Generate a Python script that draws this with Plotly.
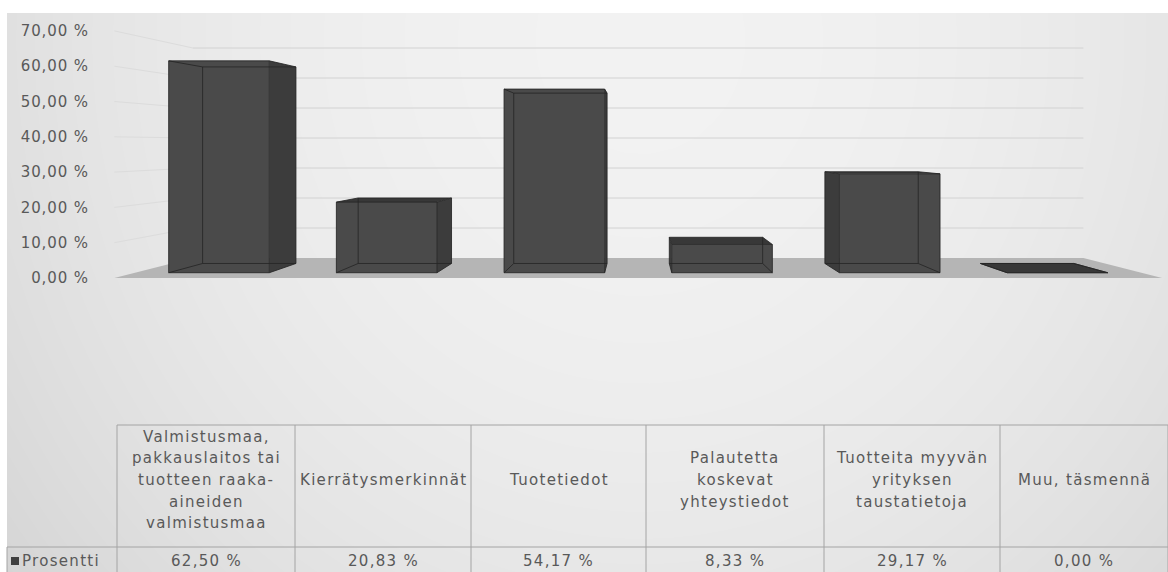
import textwrap
import numpy as np
import plotly.graph_objects as go

# ---------------------------------------------------------------- data
CATEGORIES = [
    "Valmistusmaa, pakkauslaitos tai tuotteen raaka-aineiden valmistusmaa",
    "Kierrätysmerkinnät",
    "Tuotetiedot",
    "Palautetta koskevat yhteystiedot",
    "Tuotteita myyvän yrityksen taustatietoja",
    "Muu, täsmennä",
]
PROSENTTI = [62.50, 20.83, 54.17, 8.33, 29.17, 0.00]
SERIES_NAME = "Prosentti"
Y_TICK_VALUES = [0, 10, 20, 30, 40, 50, 60, 70]
Y_TICK_LABELS = ["0,00 %", "10,00 %", "20,00 %", "30,00 %",
                 "40,00 %", "50,00 %", "60,00 %", "70,00 %"]

# ---------------------------------------------------------------- style
W, H = 1168, 572
FONT = "DejaVu Sans"
TEXT = "#595959"
FS = 15
SPACING = "1.3px"
TICK_SPACING = "0.9px"

# simple perspective camera for the 3-D column look
UNIT = 3.53          # px per percent on the front edge of the floor
CENTER_PX = 638.2    # horizontal vanishing line
FLOOR_FRONT_PX = 278
EYE = 37.7           # eye height, in percent units
DIST = 5.66          # camera distance, in floor depths
HALF_W = 148.4       # half floor width, in percent units
BAR_Z = (0.234, 0.693)
BAR_FRAC = 0.6
PLOT_L = 90

BAR_FRONT = "#4a4a4a"
BAR_SIDE = "#3c3c3c"
BAR_TOP = "#383838"
BAR_EDGE = "rgba(38,38,38,0.85)"
FLOOR = "#b5b5b5"
GRID_BACK = "#d2d2d2"
GRID_SIDE = "#dcdcdc"
TABLE_LINE = "#a4a4a4"


def spaced(s, sp=SPACING):
    return f'<span style="letter-spacing:{sp}">{s}</span>'


def proj(X, Y, Z):
    r = DIST / (DIST + Z)
    return r * X, EYE + r * (Y - EYE)


def poly(points):
    xs, ys = zip(*[proj(*p) for p in points])
    return list(xs) + [xs[0]], list(ys) + [ys[0]]


fig = go.Figure()

# --- soft background gradient (full chart area)
gx = np.linspace(7, W, 48)
gy = np.linspace(13, H, 32)
GX, GY = np.meshgrid(gx, gy)
shade = 242 - 22 * ((GX - 640) / 700) ** 2 - 12 * ((GY - 40) / 560) ** 2
fig.add_trace(go.Heatmap(
    x=gx, y=gy, z=shade, zmin=200, zmax=245, zsmooth="best",
    colorscale=[[0, "rgb(200,200,200)"], [1, "rgb(245,245,245)"]],
    showscale=False, hoverinfo="skip", xaxis="x", yaxis="y"))

# --- floor
fx, fy = poly([(-HALF_W, 0, 0), (HALF_W, 0, 0), (HALF_W, 0, 1), (-HALF_W, 0, 1)])
fig.add_trace(go.Scatter(x=fx, y=fy, mode="lines", fill="toself",
                         fillcolor=FLOOR, line=dict(width=0),
                         hoverinfo="skip", showlegend=False,
                         xaxis="x2", yaxis="y2"))

# --- gridlines on the back wall and the left wall
bx, by, sx, sy = [], [], [], []
for v in Y_TICK_VALUES[1:]:
    x0, y0 = proj(-HALF_W, v, 1)
    x1, y1 = proj(HALF_W, v, 1)
    bx += [x0, x1, None]
    by += [y0, y1, None]
    x2, y2 = proj(-HALF_W, v, 0)
    sx += [x2, x0, None]
    sy += [y2, y0, None]
fig.add_trace(go.Scatter(x=sx, y=sy, mode="lines",
                         line=dict(color=GRID_SIDE, width=1),
                         hoverinfo="skip", showlegend=False,
                         xaxis="x2", yaxis="y2"))
fig.add_trace(go.Scatter(x=bx, y=by, mode="lines",
                         line=dict(color=GRID_BACK, width=1),
                         hoverinfo="skip", showlegend=False,
                         xaxis="x2", yaxis="y2"))

# --- columns
cat_w = 2 * HALF_W / len(CATEGORIES)
hw = cat_w * BAR_FRAC / 2
z0, z1 = BAR_Z


def face(points, color):
    xs, ys = poly(points)
    fig.add_trace(go.Scatter(x=xs, y=ys, mode="lines", fill="toself",
                             fillcolor=color, line=dict(width=0),
                             hoverinfo="skip", showlegend=False,
                             xaxis="x2", yaxis="y2"))


for i, (name, v) in enumerate(zip(CATEGORIES, PROSENTTI)):
    c = -HALF_W + cat_w * (i + 0.5)
    xl, xr = c - hw, c + hw
    # side face turned toward the viewer
    xs_side = xr if c < 0 else xl
    face([(xs_side, 0, z0), (xs_side, 0, z1), (xs_side, v, z1), (xs_side, v, z0)], BAR_SIDE)
    # top face, visible when below eye height
    if v < EYE:
        face([(xl, v, z0), (xr, v, z0), (xr, v, z1), (xl, v, z1)], BAR_TOP)
    # front face
    if v > 0:
        face([(xl, 0, z0), (xr, 0, z0), (xr, v, z0), (xl, v, z0)], BAR_FRONT)
    # all twelve edges (the faces are slightly see-through)
    corners = {}
    for a, X in (("l", xl), ("r", xr)):
        for b, Y in (("b", 0), ("t", v)):
            for d, Z in (("f", z0), ("k", z1)):
                corners[a + b + d] = proj(X, Y, Z)
    edges = [("lbf", "rbf"), ("ltf", "rtf"), ("lbk", "rbk"), ("ltk", "rtk"),
             ("lbf", "ltf"), ("rbf", "rtf"), ("lbk", "ltk"), ("rbk", "rtk"),
             ("lbf", "lbk"), ("rbf", "rbk"), ("ltf", "ltk"), ("rtf", "rtk")]
    ex, ey = [], []
    for p, q in edges:
        ex += [corners[p][0], corners[q][0], None]
        ey += [corners[p][1], corners[q][1], None]
    fig.add_trace(go.Scatter(x=ex, y=ey, mode="lines",
                             line=dict(color=BAR_EDGE, width=1),
                             name=name, hoverinfo="skip", showlegend=False,
                             xaxis="x2", yaxis="y2"))

# --- data table below the chart
COL_EDGES = [117, 295, 471, 646, 824, 1000, 1168]
TABLE_TOP, VALUE_TOP, TABLE_BOTTOM = 425, 547, 580
ROW_HDR_LEFT = 7
LINE_PITCH = 21.7
HEADER_MID = 480
VALUE_Y = 561


def px(x):
    return x / W


def py(y):
    return 1 - y / H


shapes = []


def hline(x0, x1, y):
    shapes.append(dict(type="line", xref="paper", yref="paper",
                       x0=px(x0), x1=px(x1), y0=py(y), y1=py(y),
                       line=dict(color=TABLE_LINE, width=1)))


def vline(x, y0, y1):
    shapes.append(dict(type="line", xref="paper", yref="paper",
                       x0=px(x), x1=px(x), y0=py(y0), y1=py(y1),
                       line=dict(color=TABLE_LINE, width=1)))


hline(COL_EDGES[0], COL_EDGES[-1], TABLE_TOP)
hline(ROW_HDR_LEFT, COL_EDGES[-1], VALUE_TOP)
vline(ROW_HDR_LEFT, VALUE_TOP, TABLE_BOTTOM)
for x in COL_EDGES:
    vline(x, TABLE_TOP, TABLE_BOTTOM)

# legend key square in the row header
shapes.append(dict(type="rect", xref="paper", yref="paper",
                   x0=px(11), x1=px(19), y0=py(565), y1=py(557),
                   fillcolor="#404040", line=dict(width=0)))

annotations = []
for i, (name, v) in enumerate(zip(CATEGORIES, PROSENTTI)):
    cx = (COL_EDGES[i] + COL_EDGES[i + 1]) / 2
    lines = textwrap.wrap(name, width=17, break_long_words=False)
    n = len(lines)
    for k, line in enumerate(lines):
        yy = HEADER_MID + (k - (n - 1) / 2) * LINE_PITCH
        annotations.append(dict(x=px(cx), y=py(yy), xref="paper", yref="paper",
                                text=spaced(line), showarrow=False,
                                xanchor="center", yanchor="middle",
                                font=dict(family=FONT, size=FS, color=TEXT)))
    label = f"{v:.2f}".replace(".", ",") + " %"
    annotations.append(dict(x=px(cx), y=py(VALUE_Y), xref="paper", yref="paper",
                            text=spaced(label), showarrow=False,
                            xanchor="center", yanchor="middle",
                            font=dict(family=FONT, size=FS, color=TEXT)))
annotations.append(dict(x=px(20), y=py(VALUE_Y), xref="paper", yref="paper",
                        text=spaced(SERIES_NAME), showarrow=False,
                        xanchor="left", yanchor="middle",
                        font=dict(family=FONT, size=FS, color=TEXT)))

fig.update_layout(
    width=W, height=H,
    margin=dict(l=0, r=0, t=0, b=0),
    paper_bgcolor="white",
    plot_bgcolor="rgba(0,0,0,0)",
    showlegend=False,
    xaxis=dict(domain=[7 / W, 1], range=[7, W], visible=False, fixedrange=True),
    yaxis=dict(domain=[0, 1 - 13 / H], range=[H, 13], visible=False, fixedrange=True),
    xaxis2=dict(domain=[PLOT_L / W, 1],
                range=[(PLOT_L - CENTER_PX) / UNIT, (W - CENTER_PX) / UNIT],
                visible=False, anchor="y2", fixedrange=True),
    yaxis2=dict(domain=[0, 1],
                range=[(FLOOR_FRONT_PX - H) / UNIT, FLOOR_FRONT_PX / UNIT],
                anchor="x2", showgrid=False, zeroline=False, showline=False,
                ticks="", tickvals=Y_TICK_VALUES,
                ticktext=[spaced(t, TICK_SPACING) for t in Y_TICK_LABELS],
                tickfont=dict(family=FONT, size=FS, color=TEXT),
                fixedrange=True),
    shapes=shapes,
    annotations=annotations,
)

fig.write_html("out.html")
